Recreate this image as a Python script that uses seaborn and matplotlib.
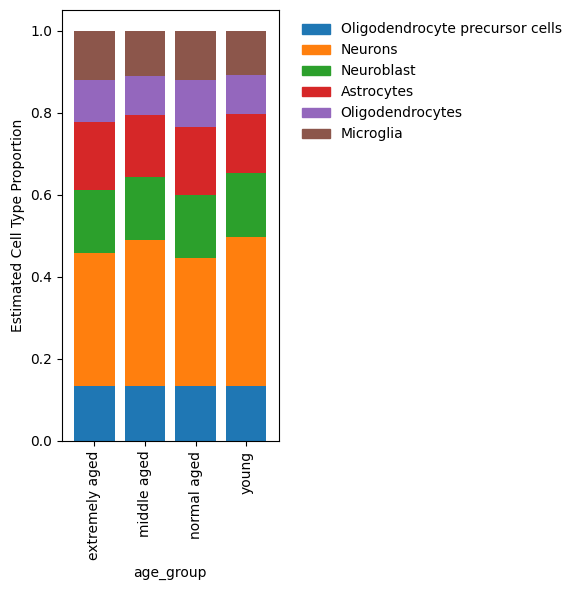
import matplotlib
matplotlib.use("Agg")
import matplotlib.pyplot as plt
import matplotlib.patches as mpatches
import seaborn as sns
import numpy as np
import pandas as pd

age_groups = ["extremely aged", "middle aged", "normal aged", "young"]
cell_types = ["Oligodendrocyte precursor cells", "Neurons", "Neuroblast",
              "Astrocytes", "Oligodendrocytes", "Microglia"]

opc = [0.135, 0.133, 0.135, 0.133]
neurons = [0.324, 0.356, 0.312, 0.365]
neuroblast = [0.152, 0.154, 0.152, 0.155]
astrocytes = [0.166, 0.151, 0.166, 0.143]
oligodendrocytes = [0.102, 0.095, 0.114, 0.096]
microglia = [0.121, 0.111, 0.121, 0.108]

colors = sns.color_palette("tab10", 6)

props = pd.DataFrame(
    np.array([opc, neurons, neuroblast, astrocytes, oligodendrocytes, microglia]).T,
    index=age_groups, columns=cell_types,
)
# normalise so every bar reaches 1.0
props = props.div(props.sum(axis=1), axis=0)
cumulative = props.cumsum(axis=1)

fig = plt.figure(figsize=(5.77, 5.9), dpi=100)
ax = fig.add_axes([62 / 577, 1 - 441 / 590, (278.5 - 62) / 577, (441 - 10) / 590])

# draw tallest stack first, each smaller one on top of it
for i in range(len(cell_types) - 1, -1, -1):
    sns.barplot(
        x=age_groups, y=cumulative[cell_types[i]].values, color=colors[i],
        saturation=1, width=0.8, errorbar=None, linewidth=0, ax=ax,
    )

ax.set_xlim(-0.64, 3.64)
ax.set_ylim(0, 1.05)
ax.set_xlabel("age_group")
ax.set_ylabel("Estimated Cell Type Proportion")
ax.tick_params(axis="x", rotation=90)

handles = [mpatches.Patch(color=colors[i], label=c) for i, c in enumerate(cell_types)]
ax.legend(handles=handles, bbox_to_anchor=(1.05, 1), loc="upper left", frameon=False)

fig.savefig("out.png", dpi=100)
